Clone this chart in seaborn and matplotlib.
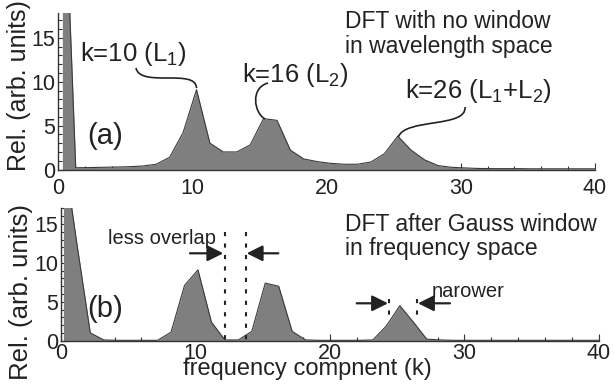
import matplotlib
matplotlib.use("Agg")
import numpy as np
import pandas as pd
import seaborn as sns
import matplotlib.pyplot as plt
from matplotlib.path import Path
from matplotlib.patches import PathPatch
from matplotlib.transforms import Affine2D
from matplotlib.ticker import MultipleLocator
from matplotlib.lines import Line2D

sns.set_style("ticks")
plt.rcParams['font.family'] = ['Liberation Sans', 'DejaVu Sans']
plt.rcParams['mathtext.fontset'] = 'custom'
plt.rcParams['mathtext.rm'] = 'Liberation Sans'
plt.rcParams['mathtext.it'] = 'Liberation Sans:italic'

# ---- data ----
freq_a = [0.3, 1.3, 2.3, 3.3, 4.3, 5.3, 6.3, 7.3, 8.3, 9.3, 10.3, 11.3, 12.3, 13.3,
          14.3, 15.3, 16.3, 17.3, 18.3, 19.3, 20.3, 21.3, 22.3, 23.3, 24.3, 25.3,
          26.3, 27.3, 28.3, 29.3, 30.3, 31.3, 32.3, 33.3, 34.3, 35.3, 36.3, 37.3,
          38.3, 39.3, 40.3]
amp_a = [40.0, 0.2, 0.22, 0.25, 0.28, 0.32, 0.4, 0.6, 1.4, 4.2, 9.1, 3.0, 2.0, 2.0,
         2.8, 5.8, 5.6, 2.2, 1.2, 0.9, 0.7, 0.6, 0.6, 0.85, 1.8, 3.8,
         2.2, 1.1, 0.45, 0.25, 0.18, 0.12, 0.1, 0.1, 0.1, 0.08, 0.08, 0.08,
         0.08, 0.08, 0.08]

freq_b = [0.2, 1.2, 2.2, 3.2, 4.2, 5.2, 6.2, 7.2, 8.2, 9.2, 10.2, 11.2, 12.2, 13.2,
          14.2, 15.2, 16.2, 17.2, 18.2, 19.2, 20.2, 21.2, 22.2, 23.2, 24.2, 25.2,
          26.2, 27.2, 28.2, 29.2, 30.2, 31.2, 32.2, 33.2, 34.2, 35.2, 36.2, 37.2,
          38.2, 39.2, 40.2]
amp_b = [24.5, 12.5, 1.0, 0.1, 0.05, 0.05, 0.05, 0.05, 1.1, 7.1, 9.1, 2.4, 0.1, 0.1,
         1.2, 7.4, 7.0, 1.2, 0.1, 0.05, 0.05, 0.05, 0.05, 0.1, 1.9, 4.5,
         2.4, 0.2, 0.1, 0.05, 0.05, 0.05, 0.05, 0.05, 0.05, 0.05, 0.05, 0.05,
         0.05, 0.05, 0.05]

x_major = [0, 10, 20, 30, 40]
y_major = [0, 5, 10, 15]

df_a = pd.DataFrame({"k": freq_a, "amp": amp_a})
df_b = pd.DataFrame({"k": freq_b, "amp": amp_b})

W, H = 614, 385
fig = plt.figure(figsize=(W / 100, H / 100), dpi=100)
PX = Affine2D().scale(1 / W, -1 / H).translate(0, 1) + fig.transFigure

def rect(l, t, r, b):
    return [l / W, 1 - b / H, (r - l) / W, (b - t) / H]

ax_a = fig.add_axes(rect(58.3, 13.3, 595, 169.5))
ax_b = fig.add_axes(rect(60.7, 208, 599, 340.7))

FILL = '#7f7f7f'
EDGE = '#3a3a3a'
AX = '#333333'

for ax, df, ytop in [(ax_a, df_a, 17.8), (ax_b, df_b, 17.05)]:
    ax.fill_between(df["k"], 0, df["amp"], color=FILL, lw=0)
    sns.lineplot(data=df, x="k", y="amp", ax=ax, color=EDGE, lw=0.8)
    ax.set_xlim(0, 40)
    ax.set_ylim(0, ytop)
    ax.set_xlabel("")
    ax.set_ylabel("")
    ax.set_xticks(x_major)
    ax.set_yticks(y_major)
    ax.xaxis.set_minor_locator(MultipleLocator(2))
    ax.yaxis.set_minor_locator(MultipleLocator(1))
    ax.tick_params(which='both', direction='in', colors=AX, labelcolor='#222222',
                   labelsize=15.5, width=0.8)
    ax.tick_params(which='major', length=5)
    ax.tick_params(which='minor', length=3)
    ax.tick_params(axis='y', pad=2)
    sns.despine(ax=ax)
    for s in ['left', 'bottom']:
        ax.spines[s].set_color(AX)
        ax.spines[s].set_linewidth(1.0)
    ax.set_facecolor('white')

ax_a.tick_params(axis='x', pad=6)
ax_b.tick_params(axis='x', pad=1.5)

TXT = '#222222'
# y labels
fig.text(19 / W, 1 - 86 / H, "Rel. (arb. units)", rotation=90, ha='center', va='center',
         fontsize=18, color=TXT)
fig.text(21 / W, 1 - 292 / H, "Rel. (arb. units)", rotation=90, ha='center', va='center',
         fontsize=18.5, color=TXT)
# x label
fig.text(307 / W, 1 - 375 / H, "frequency compnent (k)", ha='center', va='baseline',
         fontsize=17, color=TXT)

def ptext(x, y, s, size, **kw):
    fig.text(x / W, 1 - y / H, s, ha='left', va='baseline', fontsize=size, color=TXT,
             linespacing=1.05, **kw)

ptext(80, 61, r"k=10 (L$_1$)", 18.5)
ptext(241.7, 81.7, r"k=16 (L$_2$)", 18.5)
ptext(405, 98.3, r"k=26 (L$_1$+L$_2$)", 18.5)
ptext(87, 144, "(a)", 21)
ptext(87, 316.7, "(b)", 21)
ptext(345, 28.3, "DFT with no window", 16.5)
ptext(345, 53.3, "in wavelength space", 16.5)
ptext(345, 231, "DFT after Gauss window", 16.5)
ptext(345, 255, "in frequency space", 16.5)
ptext(108, 244, "less overlap", 14.5)
ptext(431.7, 297.3, "narower", 14.5)

# leader curves
def bez(p0, p1, p2, p3):
    path = Path([p0, p1, p2, p3], [Path.MOVETO, Path.CURVE4, Path.CURVE4, Path.CURVE4])
    fig.add_artist(PathPatch(path, transform=PX, fill=False, lw=1.2, ec=TXT))

bez((136, 68), (140, 88), (196, 68), (196.5, 88))
bez((268, 83), (250, 88), (254, 113), (265, 119))
bez((465, 107), (467, 128), (405, 118), (398.3, 137))

# arrows
def arrow(x0, x1, y):
    fig.add_artist(matplotlib.patches.FancyArrowPatch(
        (x0, y), (x1, y), transform=PX, arrowstyle='-|>', mutation_scale=24,
        lw=1.6, color=TXT, shrinkA=0, shrinkB=0))

arrow(190, 223.3, 253.3)
arrow(278.3, 246.7, 253.3)
arrow(356.7, 388, 303.3)
arrow(450, 418, 303.3)

# dotted guide lines
for x, y0, y1 in [(225, 231.7, 340), (245.7, 231.7, 340), (389.3, 299, 316), (417.3, 299, 316)]:
    fig.add_artist(Line2D([x, x], [y0, y1], transform=PX, color=TXT, lw=1.5,
                          linestyle=(0, (2.0, 3.5))))

fig.savefig("out.png", dpi=100, facecolor='white')
